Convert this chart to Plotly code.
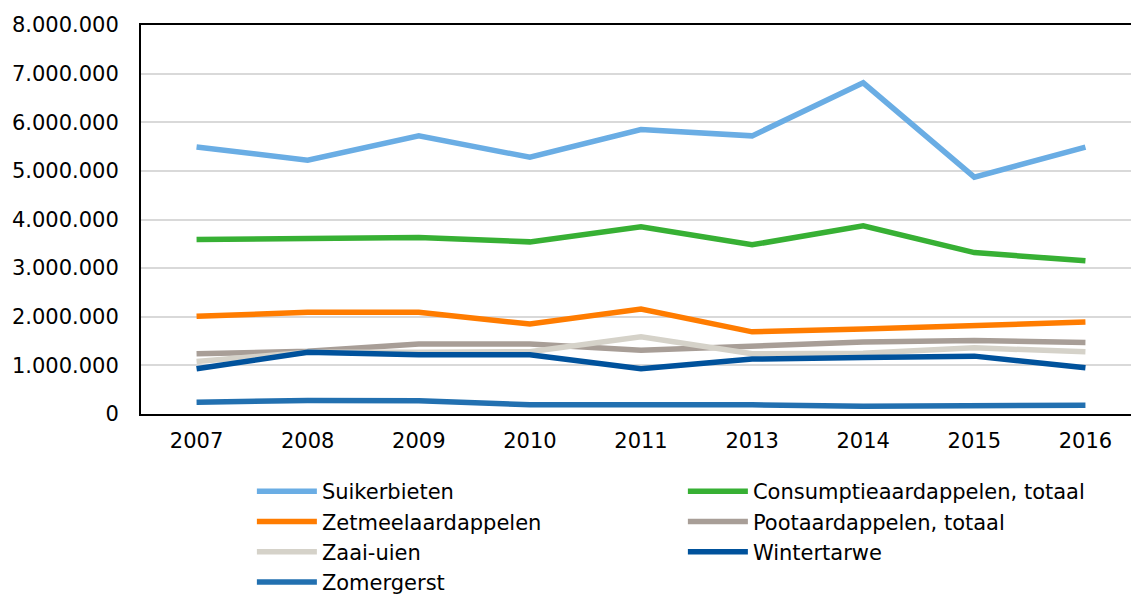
import plotly.graph_objects as go

years = ["2007", "2008", "2009", "2010", "2011", "2013", "2014", "2015", "2016"]

suikerbieten = [5490000, 5220000, 5720000, 5280000, 5850000, 5720000, 6810000, 4870000, 5490000]
consumptie = [3590000, 3610000, 3630000, 3540000, 3850000, 3480000, 3870000, 3320000, 3150000]
zetmeel = [2010000, 2090000, 2090000, 1850000, 2160000, 1690000, 1750000, 1820000, 1890000]
poot = [1240000, 1290000, 1440000, 1440000, 1310000, 1400000, 1480000, 1510000, 1470000]
zaai_uien = [1080000, 1270000, 1270000, 1280000, 1590000, 1240000, 1250000, 1360000, 1280000]
wintertarwe = [930000, 1270000, 1220000, 1220000, 930000, 1130000, 1160000, 1190000, 950000]
zomergerst = [240000, 280000, 270000, 190000, 190000, 190000, 160000, 180000, 180000]

series = [
    ("Suikerbieten", suikerbieten, "#6aade4"),
    ("Consumptieaardappelen, totaal", consumptie, "#37b034"),
    ("Zetmeelaardappelen", zetmeel, "#ff7c00"),
    ("Pootaardappelen, totaal", poot, "#a89e97"),
    ("Zaai-uien", zaai_uien, "#d5d2c9"),
    ("Wintertarwe", wintertarwe, "#00529c"),
    ("Zomergerst", zomergerst, "#2270b0"),
]

fig = go.Figure()
for name, vals, col in series:
    fig.add_trace(go.Scatter(x=years, y=vals, name=name, mode="lines",
                             line=dict(color=col, width=5.5)))

font = dict(family="DejaVu Sans, Verdana, sans-serif", size=21, color="#000000")

fig.update_layout(
    width=1131, height=594,
    margin=dict(l=141, r=0, t=25, b=180, autoexpand=False),
    paper_bgcolor="white", plot_bgcolor="white",
    separators=",.",
    font=font,
    showlegend=True,
    legend=dict(orientation="h", x=0.112, xanchor="left", y=-0.1465, yanchor="top",
                entrywidth=356, entrywidthmode="pixels", itemwidth=60,
                font=font, bgcolor="rgba(0,0,0,0)", traceorder="normal"),
)
fig.update_xaxes(type="category", range=[-0.5, 8.41], showline=True, linecolor="black",
                 linewidth=2, mirror=True, showgrid=False, ticks="", ticklabelstandoff=7,
                 tickfont=font)
fig.update_yaxes(range=[0, 8000000], dtick=1000000, tickformat=",d", showline=True,
                 linecolor="black", linewidth=2, mirror=False, showgrid=True,
                 gridcolor="#d9d9d9", gridwidth=1.5, zeroline=False, ticks="",
                 ticklabelstandoff=16, tickfont=font)

fig.write_html("out.html", config={"displayModeBar": False},
               post_script="document.body.style.margin='0';document.body.style.overflow='hidden';")
